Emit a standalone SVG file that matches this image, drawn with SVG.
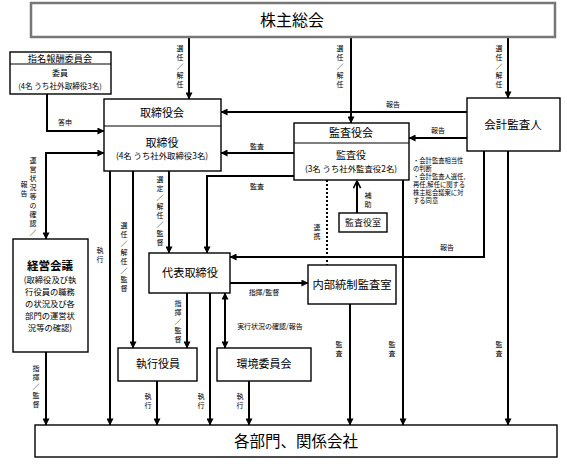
<svg xmlns="http://www.w3.org/2000/svg" width="567" height="467" viewBox="0 0 567 467">
<style>
text{font-family:"Noto Sans CJK JP","Noto Sans CJK SC",sans-serif;fill:#000}
.box{fill:#fff;stroke:#000;stroke-width:1.4}
.c{fill:none;stroke:#000;stroke-width:2}
.t{text-anchor:middle}
.l{font-size:7px;text-anchor:middle}
.n{font-size:6.3px}
</style>
<defs>
<marker id="ah" viewBox="0 0 8 8" refX="7.5" refY="4" markerWidth="7" markerHeight="7" markerUnits="userSpaceOnUse" orient="auto-start-reverse">
<path d="M0,0 L8,4 L0,8 z" fill="#000"/>
</marker>
<marker id="oh" viewBox="0 0 10 10" refX="9" refY="5" markerWidth="9" markerHeight="9" markerUnits="userSpaceOnUse" orient="auto">
<path d="M1,1 L9,5 L1,9" fill="none" stroke="#000" stroke-width="1.8"/>
</marker>
</defs>
<rect width="567" height="467" fill="#fff"/>

<g id="connectors">
<path class="c" d="M189,37 V99" marker-end="url(#ah)"/>
<path class="c" d="M351,37 V123" marker-end="url(#ah)"/>
<path class="c" d="M508,37 V98" marker-end="url(#ah)"/>
<path class="c" d="M47,94 V131 H104" marker-end="url(#ah)"/>
<path class="c" d="M467,112 H221" marker-end="url(#ah)"/>
<path class="c" d="M467,138 H409" marker-end="url(#ah)"/>
<path class="c" d="M294,153 H221" marker-end="url(#ah)"/>
<path class="c" d="M294,176 H207 V253" marker-end="url(#ah)"/>
<path class="c" d="M104,153 H46 V239" marker-start="url(#ah)" marker-end="url(#ah)"/>
<path class="c" d="M110,171 V425" marker-end="url(#ah)"/>
<path class="c" d="M133,171 V348" marker-end="url(#ah)"/>
<path class="c" d="M169,171 V253" marker-end="url(#ah)"/>
<path class="c" d="M187,293 V348" marker-end="url(#ah)"/>
<path class="c" d="M210,293 V425" marker-end="url(#ah)"/>
<path class="c" d="M225,293 V348" marker-start="url(#ah)" marker-end="url(#ah)"/>
<path class="c" d="M230,283 H308" marker-end="url(#ah)"/>
<path class="c" d="M484,151 V257 H230" marker-end="url(#ah)"/>
<path class="c" d="M403,180 V425" marker-end="url(#ah)"/>
<path class="c" d="M508,151 V425" marker-end="url(#ah)"/>
<path class="c" d="M350,304 V425" marker-end="url(#ah)"/>
<path class="c" d="M157,381 V425" marker-end="url(#ah)"/>
<path class="c" d="M249,381 V425" marker-end="url(#ah)"/>
<path class="c" d="M46,352 V425" marker-end="url(#ah)"/>
<path class="c" d="M357,213 V181" marker-end="url(#oh)"/>
<path d="M327,180 V265" fill="none" stroke="#000" stroke-width="2" stroke-dasharray="2,2"/>

<text class="l"><tspan x="180" y="51">選</tspan><tspan x="180" y="60">任</tspan><tspan x="180" y="69">／</tspan><tspan x="180" y="78">解</tspan><tspan x="180" y="87">任</tspan></text>
<text class="l"><tspan x="340" y="51">選</tspan><tspan x="340" y="60">任</tspan><tspan x="340" y="69">／</tspan><tspan x="340" y="78">解</tspan><tspan x="340" y="87">任</tspan></text>
<text class="l"><tspan x="499" y="51">選</tspan><tspan x="499" y="60">任</tspan><tspan x="499" y="69">／</tspan><tspan x="499" y="78">解</tspan><tspan x="499" y="87">任</tspan></text>
<text class="l"><tspan x="33" y="163">運</tspan><tspan x="33" y="172">営</tspan><tspan x="33" y="181">状</tspan><tspan x="33" y="190">況</tspan><tspan x="33" y="199">等</tspan><tspan x="33" y="208">の</tspan><tspan x="33" y="217">確</tspan><tspan x="33" y="226">認</tspan><tspan x="33" y="235">／</tspan></text>
<text class="l"><tspan x="24" y="187">報</tspan><tspan x="24" y="196">告</tspan></text>
<text class="l"><tspan x="100" y="253">執</tspan><tspan x="100" y="262">行</tspan></text>
<text class="l"><tspan x="124" y="228">選</tspan><tspan x="124" y="237">任</tspan><tspan x="124" y="246">／</tspan><tspan x="124" y="255">解</tspan><tspan x="124" y="264">任</tspan><tspan x="124" y="273">／</tspan><tspan x="124" y="282">監</tspan><tspan x="124" y="291">督</tspan></text>
<text class="l"><tspan x="160" y="182">選</tspan><tspan x="160" y="191">定</tspan><tspan x="160" y="200">／</tspan><tspan x="160" y="209">解</tspan><tspan x="160" y="218">任</tspan><tspan x="160" y="227">／</tspan><tspan x="160" y="236">監</tspan><tspan x="160" y="245">督</tspan></text>
<text class="l"><tspan x="178" y="306">指</tspan><tspan x="178" y="315">揮</tspan><tspan x="178" y="324">／</tspan><tspan x="178" y="333">監</tspan><tspan x="178" y="342">督</tspan></text>
<text class="l"><tspan x="368" y="198">補</tspan><tspan x="368" y="207">助</tspan></text>
<text class="l"><tspan x="317" y="230">連</tspan><tspan x="317" y="239">携</tspan></text>
<text class="l"><tspan x="339" y="347">監</tspan><tspan x="339" y="356">査</tspan></text>
<text class="l"><tspan x="392" y="347">監</tspan><tspan x="392" y="356">査</tspan></text>
<text class="l"><tspan x="499" y="347">監</tspan><tspan x="499" y="356">査</tspan></text>
<text class="l"><tspan x="36" y="371">指</tspan><tspan x="36" y="380">揮</tspan><tspan x="36" y="389">／</tspan><tspan x="36" y="398">監</tspan><tspan x="36" y="407">督</tspan></text>
<text class="l"><tspan x="148" y="399">執</tspan><tspan x="148" y="408">行</tspan></text>
<text class="l"><tspan x="201" y="399">執</tspan><tspan x="201" y="408">行</tspan></text>
<text class="l"><tspan x="240" y="399">執</tspan><tspan x="240" y="408">行</tspan></text>

<text class="l" x="65" y="125">答申</text>
<text class="l" x="393" y="107">報告</text>
<text class="l" x="257" y="149">監査</text>
<text class="l" x="257" y="189">監査</text>
<text class="l" x="438" y="133">報告</text>
<text class="l" x="447" y="250">報告</text>
<text class="l" x="264" y="295">指揮/監督</text>
<text class="l" x="270" y="329">実行状況の確認/報告</text>

<text class="n"><tspan x="413" y="163">・会計監査相当性</tspan><tspan x="413" y="171">の判断</tspan><tspan x="413" y="179">・会計監査人選任,</tspan><tspan x="413" y="187">再任,解任に関する</tspan><tspan x="413" y="195">株主総会議案に対</tspan><tspan x="413" y="203">する同意</tspan></text>
</g>

<g id="shareholders">
<rect x="31" y="3" width="524" height="34" fill="#fff" stroke="#777" stroke-width="2.5"/>
<text class="t" x="292" y="26" font-size="16">株主総会</text>
</g>

<g id="nomination">
<rect class="box" x="10" y="52" width="101" height="42"/>
<line x1="10" y1="64" x2="111" y2="64" stroke="#000" stroke-width="1.2"/>
<text class="t" x="60" y="62" font-size="9.2">指名報酬委員会</text>
<text class="t" x="60" y="76" font-size="8">委員</text>
<text class="t" x="60" y="89" font-size="7.6">(4名 うち社外取締役3名)</text>
</g>

<g id="board">
<rect class="box" x="104" y="99" width="117" height="72"/>
<line x1="104" y1="126" x2="221" y2="126" stroke="#000" stroke-width="1.2"/>
<text class="t" x="162" y="117" font-size="11">取締役会</text>
<text class="t" x="162" y="147" font-size="11">取締役</text>
<text class="t" x="162" y="159" font-size="8.4">(4名 うち社外取締役3名)</text>
</g>

<g id="auditboard">
<rect class="box" x="294" y="123" width="115" height="57"/>
<line x1="294" y1="143" x2="409" y2="143" stroke="#000" stroke-width="1.2"/>
<text class="t" x="351" y="137" font-size="11">監査役会</text>
<text class="t" x="351" y="159" font-size="10">監査役</text>
<text class="t" x="351" y="172" font-size="8.4">(3名 うち社外監査役2名)</text>
</g>

<g id="accountant">
<rect class="box" x="467" y="98" width="93" height="53"/>
<text class="t" x="513" y="129" font-size="11.5">会計監査人</text>
</g>

<g id="auditoffice">
<rect class="box" x="339" y="213" width="48" height="19"/>
<text class="t" x="363" y="226" font-size="9">監査役室</text>
</g>

<g id="internalaudit">
<rect class="box" x="308" y="265" width="88" height="39"/>
<text class="t" x="352" y="289" font-size="11.3">内部統制監査室</text>
</g>

<g id="president">
<rect class="box" x="149" y="253" width="81" height="40"/>
<text class="t" x="190" y="277" font-size="11.2">代表取締役</text>
</g>

<g id="executives">
<rect class="box" x="118" y="348" width="79" height="33"/>
<text class="t" x="158" y="368" font-size="11">執行役員</text>
</g>

<g id="environment">
<rect class="box" x="217" y="348" width="94" height="33"/>
<text class="t" x="264" y="368" font-size="11">環境委員会</text>
</g>

<g id="management">
<rect class="box" x="13" y="239" width="75" height="113"/>
<text class="t" x="50" y="270" font-size="11.5" font-weight="bold">経営会議</text>
<text class="t" font-size="8.3"><tspan x="50" y="283">(取締役及び執</tspan><tspan x="50" y="295">行役員の職務</tspan><tspan x="50" y="307">の状況及び各</tspan><tspan x="50" y="319">部門の運営状</tspan><tspan x="50" y="331">況等の確認)</tspan></text>
</g>

<g id="departments">
<rect class="box" x="35" y="425" width="522" height="32"/>
<text class="t" x="296" y="447" font-size="15.5">各部門、関係会社</text>
</g>
</svg>
